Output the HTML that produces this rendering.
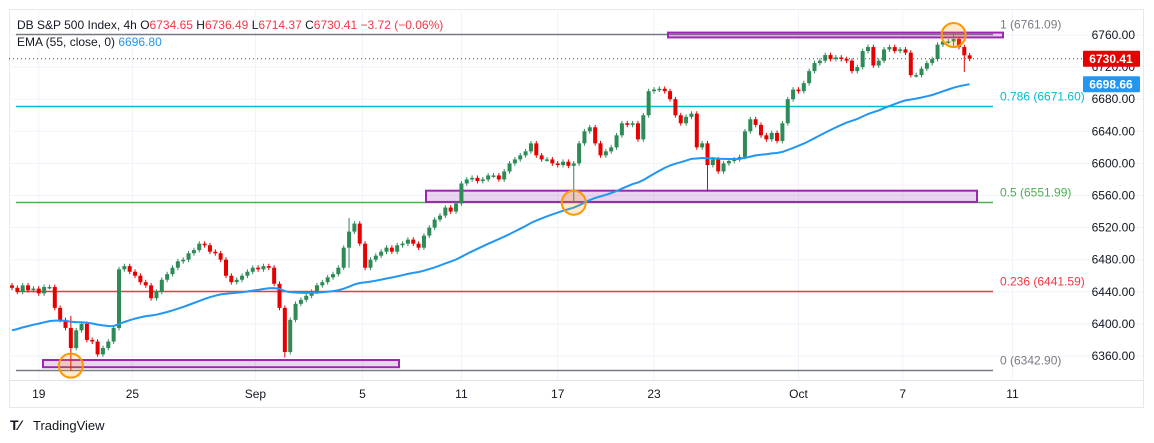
<!DOCTYPE html>
<html><head><meta charset="utf-8">
<style>
body{margin:0;background:#fff;font-family:"Liberation Sans",sans-serif;}
svg{display:block}
</style></head>
<body>
<svg id="chart" width="1154" height="443" xmlns="http://www.w3.org/2000/svg" font-family="Liberation Sans, sans-serif">
  <rect x="9.5" y="9.5" width="1134" height="398" fill="#fff" stroke="#e6e8ee"/>
  <g id="grid"></g>
  <line x1="9" y1="380.5" x2="1143" y2="380.5" stroke="#e0e3eb"/>
  <g id="fib"></g>
  <g id="zones"></g>
  <g id="candles"></g>
  <g id="ema"></g>
  <g id="marks"></g>
  <g id="axis"></g>
  <text x="17" y="29" font-size="12" fill="#131722">DB S&amp;P 500 Index, 4h  <tspan fill="#131722">O</tspan><tspan fill="#f23645">6734.65</tspan>  <tspan fill="#131722">H</tspan><tspan fill="#f23645">6736.49</tspan>  <tspan fill="#131722">L</tspan><tspan fill="#f23645">6714.37</tspan>  <tspan fill="#131722">C</tspan><tspan fill="#f23645">6730.41</tspan>  <tspan fill="#f23645">−3.72 (−0.06%)</tspan></text>
  <text x="17" y="46" font-size="12" fill="#131722">EMA (55, close, 0)  <tspan fill="#2196f3">6696.80</tspan></text>
  <g>
    <text x="10" y="430" font-size="14" font-weight="bold" fill="#131722">T⁄</text>
    <text x="33" y="430" font-size="13" fill="#131722">TradingView</text>
  </g>
</svg>
<script>
const closes=[6445,6440,6448,6442,6444,6438,6446,6446,6420,6405,
6395,6370,6392,6400,6380,6378,6362,6370,6378,6395,
6468,6472,6465,6460,6452,6448,6432,6440,6455,6462,
6470,6478,6480,6488,6492,6500,6498,6490,6488,6480,
6460,6452,6455,6460,6465,6470,6468,6472,6470,6450,
6420,6365,6405,6425,6430,6435,6440,6448,6452,6458,
6462,6470,6495,6515,6525,6500,6470,6480,6485,6490,
6495,6490,6498,6500,6505,6500,6495,6510,6520,6530,
6535,6545,6540,6550,6575,6580,6582,6578,6580,6585,
6585,6580,6590,6600,6605,6610,6615,6625,6610,6605,
6605,6600,6598,6602,6597,6600,6625,6640,6645,6625,
6610,6615,6620,6635,6650,6648,6650,6630,6660,6690,
6692,6693,6690,6680,6660,6650,6658,6662,6620,6625,
6598,6605,6590,6600,6603,6605,6608,6640,6655,6648,
6635,6630,6638,6628,6650,6680,6692,6690,6700,6715,
6725,6728,6735,6730,6732,6730,6728,6715,6720,6740,
6745,6722,6728,6742,6745,6740,6742,6738,6710,6710,
6718,6725,6730,6748,6752,6752,6755,6745,6734.65,6730.41];
const wickIdx=[11,51,105,130,178,176,63];
const wickLow=[6342,6358,6552,6565,6714,6745,6470];
const wickHigh=[6410,6420,0,0,6736,6762,6532];
const firstOpen=6448;
const emaSeed=6390;
const priceTicks=[6760,6720,6680,6640,6600,6560,6520,6480,6440,6400,6360];
const dateLabels=["19","25","Sep","5","11","17","23","Oct","7","11"];
const dateIdx=[5,22.5,45.5,65.5,84,102,120,147,166.5,187];
const fibLevels=[6761.09,6671.60,6551.99,6441.59,6342.90];
const fibNames=["1","0.786","0.5","0.236","0"];
const fibColors=["#787b86","#00bcd4","#4caf50","#f23645","#787b86"];

const NS="http://www.w3.org/2000/svg";
const y=v=>35+(6760-v)*0.8025;
const x=i=>12+i*5.35;
function el(tag,attrs,parent,text){const e=document.createElementNS(NS,tag);for(const k in attrs)e.setAttribute(k,attrs[k]);if(text!==undefined)e.textContent=text;document.getElementById(parent).appendChild(e);return e;}

priceTicks.forEach((p,i)=>{
  const g=el('line',{x1:9,x2:1143,y1:y(p),y2:y(p),stroke:'#f0f3fa'},'grid');
  
  
  const t=el('text',{x:1135,y:y(p)+4,'font-size':12,fill:'#131722','text-anchor':'end'},'axis',p.toFixed(2));
  
  
});
dateLabels.forEach((d,i)=>{
  const xx=x(dateIdx[i]);
  const g=el('line',{x1:xx,x2:xx,y1:9,y2:380,stroke:'#f0f3fa'},'grid');
  
  
  const t=el('text',{x:xx,y:398,'font-size':12,fill:'#131722','text-anchor':'middle'},'axis',d);
  
  
});

fibLevels.forEach((v,i)=>{
  const yy=Math.round(y(v))+0.5;
  const l=el('line',{x1:16,x2:993,y1:yy,y2:yy,stroke:fibColors[i],'stroke-width':1.6},'fib');
  
  
  const t=el('text',{x:1000,y:yy-6,'font-size':12,fill:fibColors[i]},'fib',fibNames[i]+' ('+v.toFixed(2)+')');
  
  
});

[[668,1003,6763,6757],[426,977,6566,6552],[43,399,6355,6346]].forEach((z,i)=>{
  const r=el('rect',{x:z[0],y:y(z[2]),width:z[1]-z[0],height:y(z[3])-y(z[2]),fill:'rgba(156,39,176,0.2)',stroke:'#9c27b0','stroke-width':2},'zones');
  
  
});

let prev=firstOpen;
closes.forEach((c,i)=>{
  const o=prev;prev=c;
  let hi=Math.max(o,c)+3,lo=Math.min(o,c)-3;
  const k=wickIdx.indexOf(i);
  if(k>=0){lo=Math.min(lo,wickLow[k]);hi=Math.max(hi,wickHigh[k]);}
  const col=c>=o?'#2e8b57':'#e60000';
  const xx=x(i);
  const w=el('line',{x1:xx,x2:xx,y1:y(hi),y2:y(lo),stroke:col,'stroke-width':1},'candles');
  
  
  const top=y(Math.max(o,c)),h=Math.max(1.5,Math.abs(y(o)-y(c)));
  const b=el('rect',{x:xx-2,y:top,width:4,height:h,fill:col},'candles');
  
  
});

let e=emaSeed;const a=2/56;const pts=[];
closes.forEach((c,i)=>{e=e+a*(c-e);pts.push(x(i).toFixed(1)+','+y(e).toFixed(1));});
const pl=el('polyline',{points:pts.join(' '),fill:'none',stroke:'#2196f3','stroke-width':2},'ema');



[[176,6760],[105,6551],[11,6348]].forEach(m=>{
  const c=el('circle',{cx:x(m[0]),cy:y(m[1]),r:12,fill:'rgba(255,152,0,0.2)',stroke:'#ff9800','stroke-width':2},'marks');
  
  
});

const last=closes[closes.length-1];
const dl=el('line',{x1:9,x2:1083,y1:y(last),y2:y(last),stroke:'#e60000','stroke-dasharray':'1 3'},'axis');


[[last,'#e60000'],[e,'#2196f3']].forEach((p,i)=>{
  const r=el('rect',{x:1083,y:y(p[0])-8,width:57,height:16,fill:p[1],rx:1},'axis');
  
  
  const t=el('text',{x:1111,y:y(p[0])+4.5,'font-size':12,'font-weight':'bold',fill:'#fff','text-anchor':'middle'},'axis',p[0].toFixed(2));
  
  
});
</script>
</body></html>
